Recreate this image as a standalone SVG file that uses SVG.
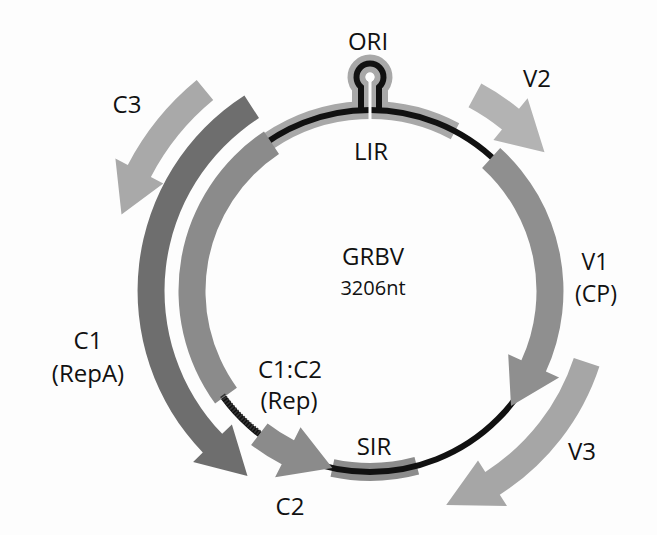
<svg xmlns="http://www.w3.org/2000/svg" width="657" height="535" viewBox="0 0 657 535">
<style>
text{font-family:"Open Sans","Liberation Sans",sans-serif;font-size:24px;fill:#111;text-anchor:middle}
.sm{font-size:20px}
.v1{font-size:23px}
.halo{fill:none;stroke:#a8a8a8;stroke-width:18}
.dna{fill:none;stroke:#111;stroke-width:6}
</style>
<rect width="657" height="535" fill="#fdfdfd"/>
<g id="genome">
<path class="halo" d="M268.8,141 A181,181 0 0 1 455,131.2"/>
<path class="halo" d="M361,114 L361,87.1 A13.5,13.5 0 1 1 379,87.1 L379,114"/>
<path d="M332.4,468 A181,181 0 0 0 416.8,465.8" fill="none" stroke="#8c8c8c" stroke-width="18"/>
<circle class="dna" cx="370" cy="291" r="181" stroke-width="5"/>
<path class="dna" d="M361,112 L361,87.1 A13.5,13.5 0 1 1 379,87.1 L379,112"/>
<line x1="370" y1="77" x2="370" y2="121" stroke="#fff" stroke-width="3"/>
<circle cx="370" cy="77" r="4.5" fill="#fff"/>
</g>
<g id="C3">
<path d="M196.7,80.1 A273,273 0 0 0 127.8,165 L115.4,158.5 L121.5,214.6 L163.3,183.4 L150.9,177 A247,247 0 0 1 213.2,100.1 Z" fill="#a9a9a9"/>
<text x="127" y="113">C3</text>
</g>
<g id="C1">
<path d="M244.4,95.4 A232.5,232.5 0 0 0 202.8,452.5 L193.1,461.9 L247.5,476.1 L231.9,424.4 L222.2,433.8 A205.5,205.5 0 0 1 259,118.1 Z" fill="#6e6e6e"/>
<text x="88" y="349">C1<tspan x="88" y="382">(RepA)</tspan></text>
</g>
<g id="C1C2">
<path d="M264,131.5 A191.5,191.5 0 0 0 215.1,403.6 L236.9,387.7 A164.5,164.5 0 0 1 279,154 Z" fill="#8b8b8b"/>
<path d="M222.5,395.3 A180,180 0 0 0 261.5,434.5" fill="none" stroke="#333" stroke-width="6" stroke-dasharray="1.5 1.5"/>
<path d="M251.1,444.9 A194.5,194.5 0 0 0 281.7,464.3 L275.1,477.2 L332.4,468 L300.5,427.3 L294,440.2 A167.5,167.5 0 0 1 267.6,423.5 Z" fill="#8b8b8b"/>
<text x="290" y="378">C1:C2<tspan x="289" y="409">(Rep)</tspan></text>
<text x="290" y="515">C2</text>
</g>
<g id="V1">
<path d="M500.2,147.9 A193.5,193.5 0 0 1 545.9,371.6 L559.1,377.6 L511,406 L508.2,354.3 L521.4,360.3 A166.5,166.5 0 0 0 482.1,167.9 Z" fill="#8f8f8f"/>
<text class="v1" x="595" y="270">V1<tspan x="596" y="302">(CP)</tspan></text>
</g>
<g id="V2">
<path d="M481.3,83.5 A235.5,235.5 0 0 1 519,108.7 L527.6,98.2 L544.5,152.2 L493.4,140 L502,129.6 A208.5,208.5 0 0 0 468.5,107.3 Z" fill="#b3b3b3"/>
<text x="537" y="87">V2</text>
</g>
<g id="V3">
<path d="M599.4,366.4 A241.5,241.5 0 0 1 499.8,494.7 L507,506.1 L446.2,504.9 L478,460.5 L485.3,471.9 A214.5,214.5 0 0 0 573.8,358 Z" fill="#a6a6a6"/>
<text x="582" y="460">V3</text>
</g>
<g id="labels">
<text x="368" y="50">ORI</text>
<text x="371" y="160">LIR</text>
<text x="374" y="455">SIR</text>
<text x="373" y="265">GRBV</text>
<text class="sm" x="373" y="295">3206nt</text>
</g>
</svg>
